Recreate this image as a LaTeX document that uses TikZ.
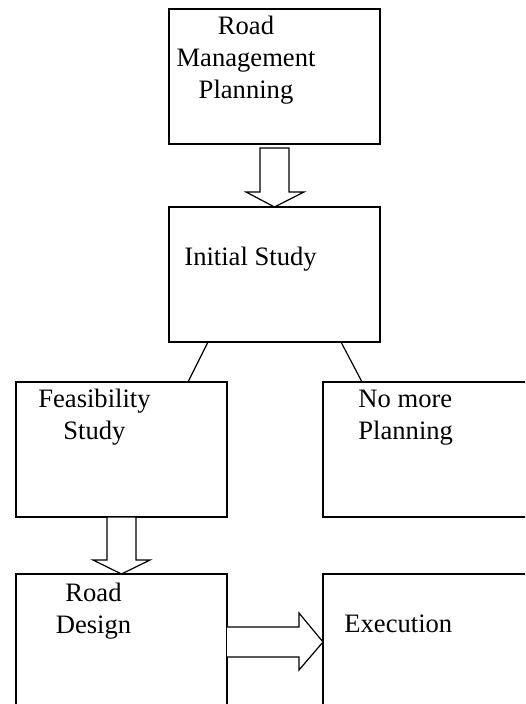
\documentclass[tikz,border=0pt]{standalone}
\usepackage{fontspec}
\setmainfont{Liberation Serif}
\usetikzlibrary{positioning, calc}
\tikzset{
    box/.style={ % Sets the properties for each stage box
        draw,
        rectangle,
        line width=0.6pt,
        minimum width=105.5pt,
        minimum height=67.5pt,
        inner sep=0pt,
        outer sep=0pt,
        anchor=north west
    },
    tall/.style={minimum height=80pt}, % bottom row runs off the page
    boxtext/.style={ % Text sits near the top of a box
        font=\fontsize{13.3}{16}\selectfont,
        inner sep=0pt,
        anchor=north
    },
    hollow/.style={ % Outline of the fat arrows
        draw,
        line width=0.6pt,
        line join=miter,
        fill=white
    },
    link/.style={draw, line width=0.6pt}
}
\begin{document}
\begin{tikzpicture}[x=0.5pt, y=-0.5pt] % one unit = one pixel, y runs down
        \useasboundingbox (0,0) rectangle (525,704);
        \clip (0,0) rectangle (525,704);
        \node[box] (rmp) at (169,9) {};
        \node[box, below=31.5pt of rmp] (init) {};
        \node[box] (feas) at (16,382) {};
        \node[box, right=48pt of feas] (nomore) {};
        \node[box, tall, below=28.5pt of feas.south, anchor=north] (design) {};
        \node[box, tall, right=48pt of design] (exec) {};

        \node[boxtext, align=center] (rmp-text) at ($(rmp.north)+(-28.5,6.8)$) {Road\\Management\\Planning};
        \node[boxtext, anchor=north west] (init-text) at ($(init.north west)+(15,39.8)$) {Initial Study};
        \node[boxtext, align=center] (feas-text) at ($(feas.north)+(-27,6.8)$) {Feasibility\\Study};
        \node[boxtext, align=left, anchor=north west] (nomore-text) at ($(nomore.north west)+(35,7.4)$) {No more\\Planning};
        \node[boxtext, align=center] (design-text) at ($(design.north)+(-28,8.8)$) {Road\\Design};
        \node[boxtext, anchor=north west] (exec-text) at ($(exec.north west)+(21,40.4)$) {Execution};

        \draw[hollow] ($(rmp.south)+(-14.5,4)$) -- ++(0,44) -- ++(-14,0) -- (init.north)
            -- ($(rmp.south)+(29.5,48)$) -- ++(-15,0) -- ++(0,-44) -- cycle;
        \draw[link] ($(init.south west)+(39,0)$) -- ($(feas.north east)+(-39,0)$);
        \draw[link] ($(init.south east)+(-39,0)$) -- ($(nomore.north west)+(39,0)$);
        \draw[hollow] ($(feas.south)+(-14.5,0)$) -- ++(0,43) -- ++(-14,0) -- (design.north)
            -- ($(feas.south)+(28.5,43)$) -- ++(-14,0) -- ++(0,-43) -- cycle;
        \draw[hollow] ($(design.north east)+(0,53)$) -- ++(72,0) -- ++(0,-14) -- ($(exec.north west)+(0,68)$)
            -- ($(design.north east)+(72,96)$) -- ++(0,-13) -- ++(-72,0);
    \end{tikzpicture}
\end{document}
